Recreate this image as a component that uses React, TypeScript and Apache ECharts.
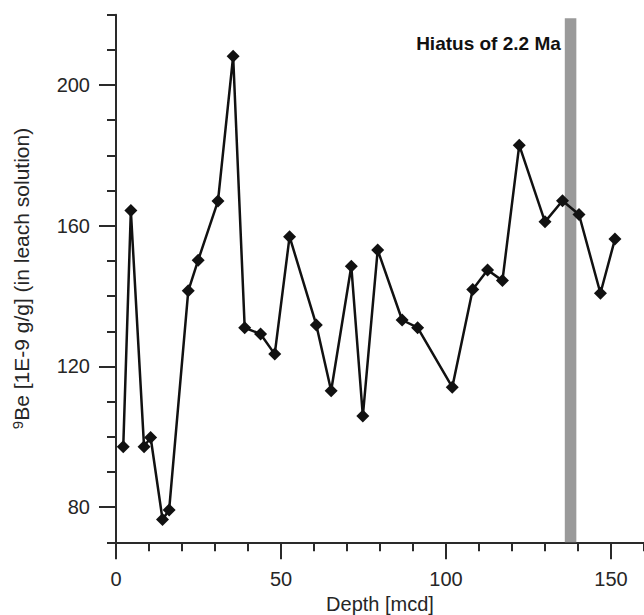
import React, { useEffect, useRef } from "react";
import * as echarts from "echarts";

const depth = [2.2, 4.5, 8.5, 10.5, 14.1, 16.1, 21.9, 24.9, 30.9, 35.5, 39.0, 43.8, 48.1, 52.6, 60.7, 65.2, 71.3, 74.8, 79.3, 86.7, 91.4, 101.9, 108.1, 112.6, 117.1, 122.2, 130.0, 135.3, 140.3, 146.8, 151.2];
const be9 = [97.2, 164.3, 97.2, 99.8, 76.5, 79.2, 141.5, 150.2, 167.0, 208.2, 131.0, 129.2, 123.5, 156.9, 131.8, 113.1, 148.5, 105.9, 153.1, 133.2, 131.0, 114.1, 141.9, 147.4, 144.4, 182.9, 161.1, 167.1, 163.2, 140.8, 156.2];
const xMajorTicks = [0, 50, 100, 150];
const yMajorTicks = [80, 120, 160, 200];
const hiatusRange = [136, 139.5];
const hiatusTop = 219;
const hiatusLabel = "Hiatus of 2.2 Ma";
const xName = "Depth [mcd]";
const yName = "{sup|9}Be [1E-9 g/g] (in leach solution)";

const FONT = "Liberation Sans, Arial, sans-serif";
const AXIS_COLOR = "#2a2a2a";
const TEXT_COLOR = "#262626";

export default function App() {
  const ref = useRef<HTMLDivElement>(null);
  useEffect(() => {
    if (!ref.current) return;
    const chart = echarts.init(ref.current, null, { renderer: "svg" });
    const points = depth.map((d, i) => [d, be9[i]]);
    const axisLine = { show: true, lineStyle: { color: AXIS_COLOR, width: 2 } };
    chart.setOption({
      animation: false,
      backgroundColor: "#ffffff",
      grid: { left: 116, right: 0, top: 14.7, bottom: 72.7, containLabel: false, outerBoundsMode: "none" },
      xAxis: [
        {
          type: "value", min: 0, max: 160, interval: 10,
          axisLine, splitLine: { show: false },
          axisTick: { show: true, length: 9, lineStyle: { color: AXIS_COLOR, width: 2 } },
          axisLabel: { show: false },
        },
        {
          type: "value", min: 0, max: 160, position: "bottom",
          axisLine: { show: false }, splitLine: { show: false },
          axisTick: { show: true, length: 17, customValues: xMajorTicks, lineStyle: { color: AXIS_COLOR, width: 2 } },
          axisLabel: { show: true, customValues: xMajorTicks, margin: 27, fontSize: 20, color: TEXT_COLOR, fontFamily: FONT },
          name: xName, nameLocation: "middle", nameGap: 47,
          nameTextStyle: { fontSize: 20, color: TEXT_COLOR, fontFamily: FONT },
        },
      ],
      yAxis: [
        {
          type: "value", min: 70, max: 220, interval: 10,
          axisLine, splitLine: { show: false },
          axisTick: { show: true, length: 9, lineStyle: { color: AXIS_COLOR, width: 2 } },
          axisLabel: { show: false },
        },
        {
          type: "value", min: 70, max: 220, position: "left",
          axisLine: { show: false }, splitLine: { show: false },
          axisTick: { show: true, length: 17, customValues: yMajorTicks, lineStyle: { color: AXIS_COLOR, width: 2 } },
          axisLabel: { show: true, customValues: yMajorTicks, margin: 26, fontSize: 20, color: TEXT_COLOR, fontFamily: FONT },
          name: yName, nameLocation: "middle", nameGap: 83, nameRotate: 90,
          nameTextStyle: {
            fontSize: 21, color: TEXT_COLOR, fontFamily: FONT,
            rich: { sup: { fontSize: 15, color: TEXT_COLOR, fontFamily: FONT, verticalAlign: "top", padding: [0, 0, 8, 0] } },
          },
        },
      ],
      series: [
        {
          type: "line",
          xAxisIndex: 0, yAxisIndex: 0,
          data: points,
          symbol: "diamond",
          symbolSize: 13,
          lineStyle: { color: "#111111", width: 2.5 },
          itemStyle: { color: "#111111" },
          z: 5,
          markArea: {
            silent: true,
            itemStyle: { color: "#9a9a9a", opacity: 1 },
            label: {
              show: true, position: [-4, 25], align: "right", verticalAlign: "middle",
              fontSize: 19, fontWeight: "bold", color: "#111111", fontFamily: FONT,
            },
            data: [[
              { name: hiatusLabel, xAxis: hiatusRange[0], yAxis: 70 },
              { xAxis: hiatusRange[1], yAxis: hiatusTop },
            ]],
          },
        },
      ],
    });
    return () => chart.dispose();
  }, []);
  return <div ref={ref} style={{ position: "fixed", left: 0, top: 0, width: 644, height: 615 }} />;
}
